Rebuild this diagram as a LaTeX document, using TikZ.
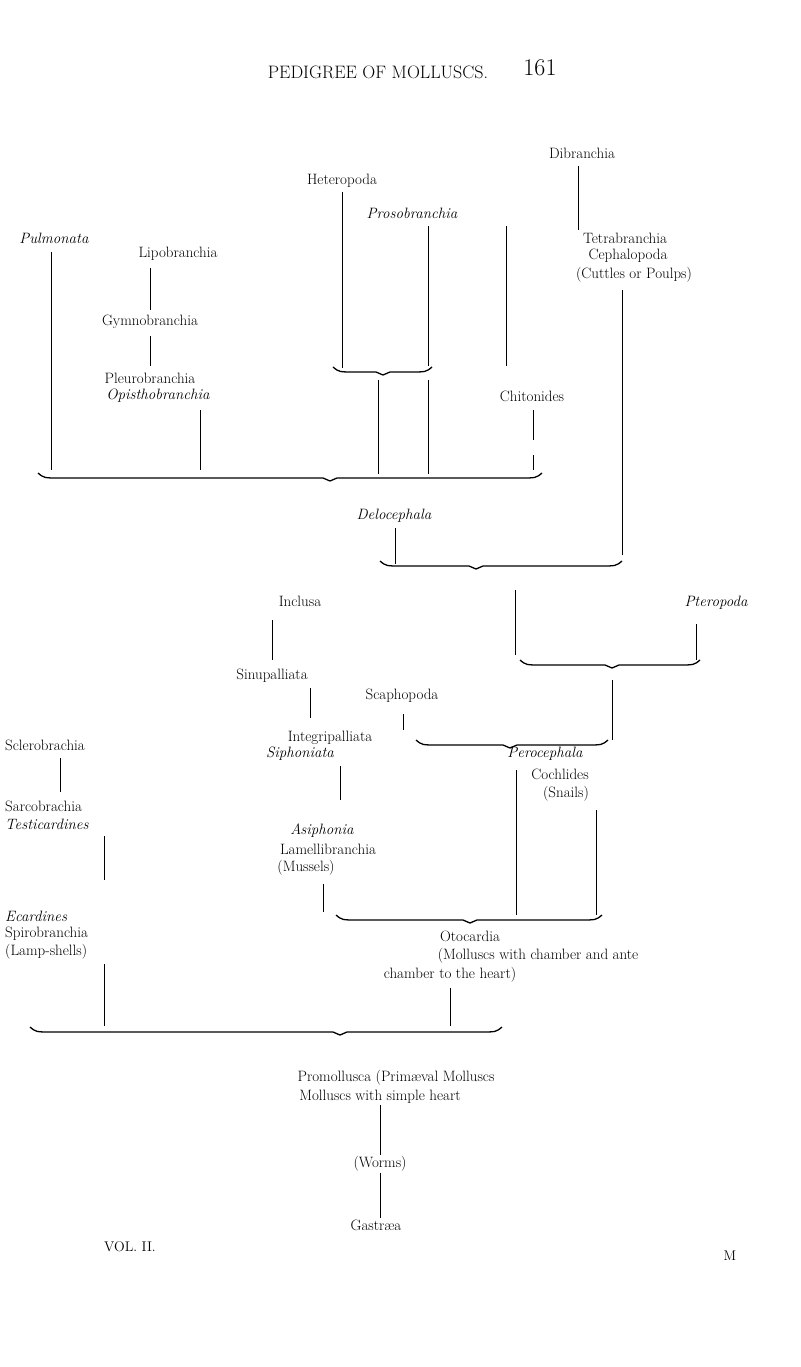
\documentclass[tikz,border=0pt]{standalone}
\usepackage{tikz}
\usetikzlibrary{positioning}
\tikzset{
  lbl/.style={font=\fontsize{15}{17}\selectfont,inner sep=1pt},
  ilbl/.style={lbl,font=\fontsize{15}{17}\selectfont\itshape},
  stem/.style={line width=1pt},
  bracket/.style={line width=1.3pt,line join=round},
}
\newcommand{\gather}[4]{% x1, xtip, x2, y
  \draw[bracket] (#1,#4-5) .. controls (#1+6,#4) .. (#1+22,#4) -- (#2-7,#4) -- (#2,#4+3)
    -- (#2+7,#4) -- (#3-22,#4) .. controls (#3-6,#4) .. (#3,#4-5);}
\begin{document}
\begin{tikzpicture}[x=1pt,y=-1pt]
  \useasboundingbox (0,0) rectangle (800,1367);
  % heading
  \node[font=\fontsize{18}{20}\selectfont] (title) at (378,72) {PEDIGREE OF MOLLUSCS.};
  \node[font=\fontsize{24}{26}\selectfont] (page) at (540,68) {161};
  % upper part
  \node[lbl] (dibr) at (582,153) {Dibranchia};
  \node[lbl] (hetero) at (342,181) {Heteropoda};
  \node[ilbl] (proso) at (412,213) {Prosobranchia};
  \node[ilbl] (pulmo) at (54,238) {Pulmonata};
  \node[lbl] (lipo) at (178,254) {Lipobranchia};
  \node[lbl] (tetra) at (625,238) {Tetrabranchia};
  \node[lbl] (cephalo) at (628,256) {Cephalopoda};
  \node[lbl] (cuttles) at (634,275) {(Cuttles or Poulps)};
  \node[lbl] (gymno) at (150,322) {Gymnobranchia};
  \node[lbl] (pleuro) at (150,378) {Pleurobranchia};
  \node[ilbl] (opist) at (158,396) {Opisthobranchia};
  \node[lbl] (chito) at (532,396) {Chitonides};
  \node[ilbl] (deloc) at (394,516) {Delocephala};
  \draw[stem] (578,166) -- (578,230);
  \draw[stem] (342,192) -- (342,368);
  \draw[stem] (428,226) -- (428,366);
  \draw[stem] (506,226) -- (506,366);
  \draw[stem] (51,252) -- (51,470);
  \draw[stem] (150,268) -- (150,310);
  \draw[stem] (150,336) -- (150,366);
  \draw[stem] (200,410) -- (200,470);
  \gather{333}{383}{432}{372}
  \draw[stem] (378,380) -- (378,474);
  \draw[stem] (428,380) -- (428,474);
  \draw[stem] (533,410) -- (533,440);
  \draw[stem] (533,455) -- (533,470);
  \draw[stem] (622,290) -- (622,555);
  \gather{38}{330}{542}{478}
  \draw[stem] (395,528) -- (395,564);
  \gather{380}{476}{622}{566}
  % middle part
  \node[lbl] (inclusa) at (300,601) {Inclusa};
  \node[ilbl] (ptero) at (716,603) {Pteropoda};
  \node[lbl] (sinu) at (272,676) {Sinupalliata};
  \node[lbl] (scapho) at (402,696) {Scaphopoda};
  \node[lbl] (integ) at (330,738) {Integripalliata};
  \node[ilbl] (sipho) at (300,754) {Siphoniata};
  \node[ilbl] (peroc) at (545,754) {Perocephala};
  \node[lbl] (cochl) at (560,774) {Cochlides};
  \node[lbl] (snails) at (566,794) {(Snails)};
  \node[ilbl] (asipho) at (322,831) {Asiphonia};
  \node[lbl] (lamell) at (328,849) {Lamellibranchia};
  \node[lbl] (mussels) at (306,868) {(Mussels)};
  \draw[stem] (515,590) -- (515,655);
  \draw[stem] (696,624) -- (696,660);
  \gather{520}{612}{700}{665}
  \draw[stem] (272,620) -- (272,660);
  \draw[stem] (310,688) -- (310,718);
  \draw[stem] (403,714) -- (403,730);
  \draw[stem] (612,680) -- (612,740);
  \gather{416}{510}{608}{745}
  \draw[stem] (340,766) -- (340,800);
  \draw[stem] (596,810) -- (596,915);
  \draw[stem] (516,770) -- (516,915);
  \draw[stem] (323,884) -- (323,912);
  \gather{336}{470}{602}{920}
  \node[lbl] (otoc) at (470,936) {Otocardia};
  \node[lbl] (oto2) at (538,956) {(Molluscs with chamber and ante};
  \node[lbl] (oto3) at (450,975) {chamber to the heart)};
  \draw[stem] (450,988) -- (450,1026);
  % left column
  \node[lbl,anchor=west] (sclero) at (4,745) {Sclerobrachia};
  \node[lbl,anchor=west] (sarco) at (4,806) {Sarcobrachia};
  \node[ilbl,anchor=west] (testi) at (4,824) {Testicardines};
  \node[ilbl,anchor=west] (ecard) at (4,916) {Ecardines};
  \node[lbl,anchor=west] (spiro) at (4,934) {Spirobranchia};
  \node[lbl,anchor=west] (lamp) at (4,952) {(Lamp-shells)};
  \draw[stem] (60,758) -- (60,792);
  \draw[stem] (104,836) -- (104,880);
  \draw[stem] (104,964) -- (104,1026);
  \gather{30}{340}{502}{1032}
  % lower part
  \node[lbl] (promo) at (396,1078) {Promollusca (Primæval Molluscs};
  \node[lbl] (simple) at (380,1097) {Molluscs with simple heart};
  \node[lbl] (worms) at (380,1164) {(Worms)};
  \node[lbl] (gastr) at (376,1225) {Gastræa};
  \draw[stem] (simple.south -| worms.north) -- (worms.north);
  \draw[stem] (worms.south) -- (gastr.north -| worms.south);
  \node[font=\fontsize{14}{16}\selectfont] (vol) at (130,1247) {VOL. II.};
  \node[font=\fontsize{14}{16}\selectfont] (sig) at (730,1256) {M};
\end{tikzpicture}
\end{document}
